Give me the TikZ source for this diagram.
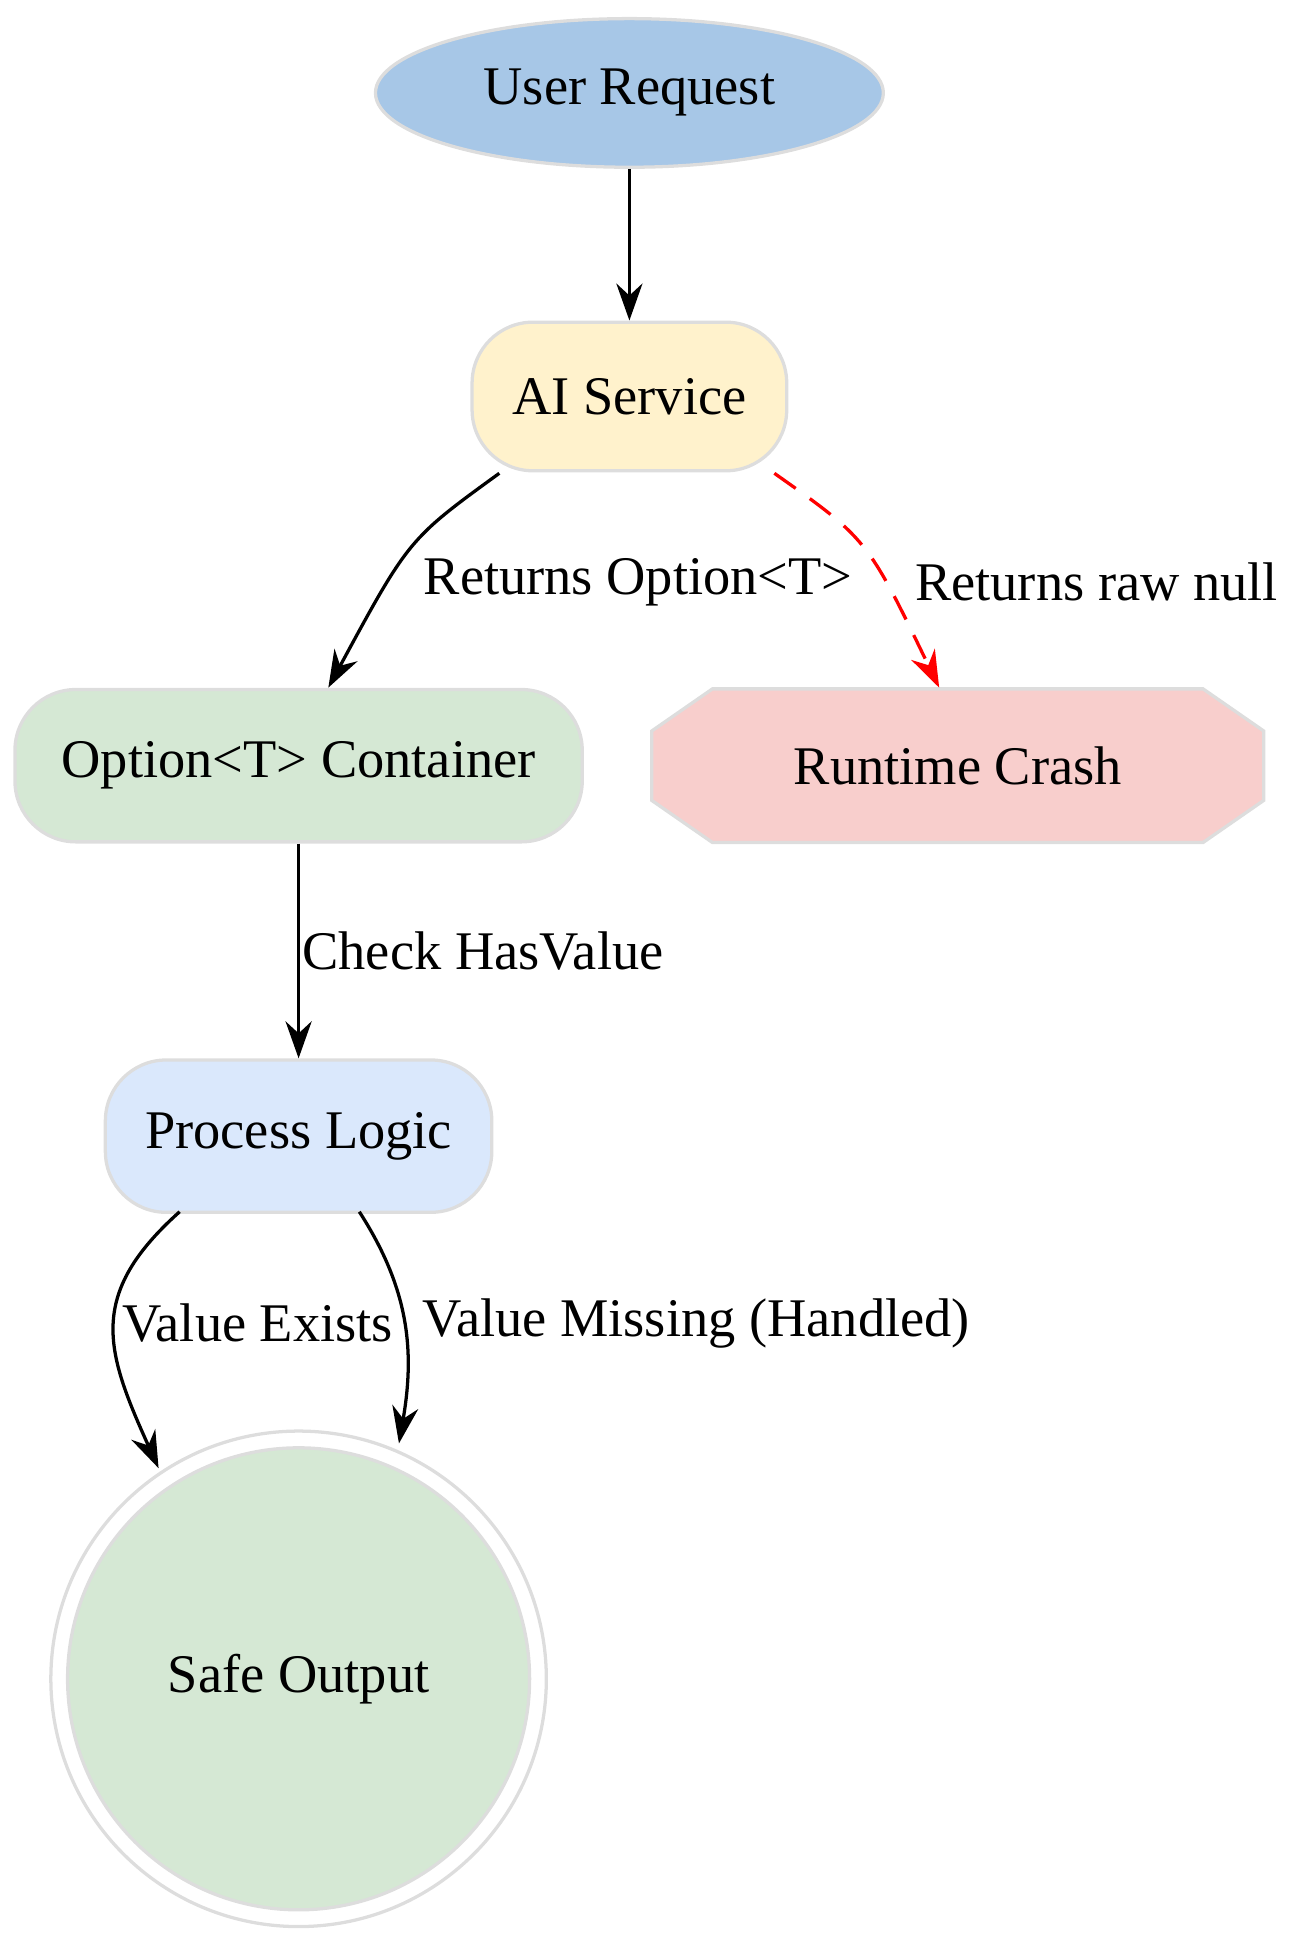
\documentclass[tikz,border=0pt]{standalone}
\usepackage{fontspec}
\setmainfont{Liberation Serif}
\usetikzlibrary{arrows.meta,shapes.geometric}
\definecolor{edgegray}{HTML}{DDDDDD}
\definecolor{reqblue}{HTML}{A7C7E7}
\definecolor{aiyellow}{HTML}{FFF2CC}
\definecolor{okgreen}{HTML}{D5E8D4}
\definecolor{crashred}{HTML}{F8CECC}
\definecolor{logicblue}{HTML}{DAE8FC}
\begin{document}
\begin{tikzpicture}[x=0.02cm,y=-0.02cm,>={Stealth[length=17pt,width=12pt]},
  font=\fontsize{25}{30}\selectfont,
  box/.style={draw=edgegray,line width=1.5pt,rounded corners=28pt,inner sep=0pt},
  link/.style={->,line width=1.5pt},
  lbl/.style={inner sep=1pt}]

  \useasboundingbox (0,0) rectangle (1050,1565);

  \node[ellipse,draw=edgegray,line width=1.5pt,fill=reqblue,minimum width=410\pgflinewidth*0+8.2cm,minimum height=2.4cm] (req) at (508,75) {User Request};
  \node[box,fill=aiyellow,minimum width=5.08cm,minimum height=2.4cm] (ai) at (508,320) {AI Service};
  \node[box,fill=okgreen,minimum width=9.16cm,minimum height=2.46cm] (opt) at (241,618) {Option<T> Container};
  \fill[crashred,draw=edgegray,line width=1.5pt] (575,556) -- (971,556) -- (1020,590) -- (1020,646) -- (971,680) -- (575,680) -- (526,646) -- (526,590) -- cycle;
  \node[minimum width=9.88cm,minimum height=2.48cm] (crash) at (773,618) {Runtime Crash};
  \node[box,fill=logicblue,minimum width=6.24cm,minimum height=2.46cm] (logic) at (241,917) {Process Logic};
  \node[circle,draw=edgegray,line width=1.5pt,minimum size=8cm] (safeo) at (241,1355) {};
  \node[circle,draw=edgegray,line width=1.5pt,fill=okgreen,minimum size=7.46cm] (safe) at (241,1355) {Safe Output};

  \draw[link] (req) -- (ai);
  \draw[link] (403,382) .. controls (330,435) .. (265,555);
  \node[lbl] (l1) at (515,470) {Returns Option<T>};
  \draw[link,red,dashed,dash pattern=on 12pt off 8pt] (625,382) .. controls (700,435) .. (758,555);
  \node[lbl] (l2) at (885,470) {Returns raw null};
  \draw[link] (opt) -- (logic) node[midway,right,lbl] {Check HasValue};
  \draw[link] (145,978) .. controls (70,1045) and (85,1090) .. (128,1185);
  \node[lbl] (l3) at (208,1068) {Value Exists};
  \draw[link] (290,978) .. controls (330,1040) and (335,1090) .. (322,1165);
  \node[lbl] (l4) at (562,1068) {Value Missing (Handled)};
\end{tikzpicture}
\end{document}
